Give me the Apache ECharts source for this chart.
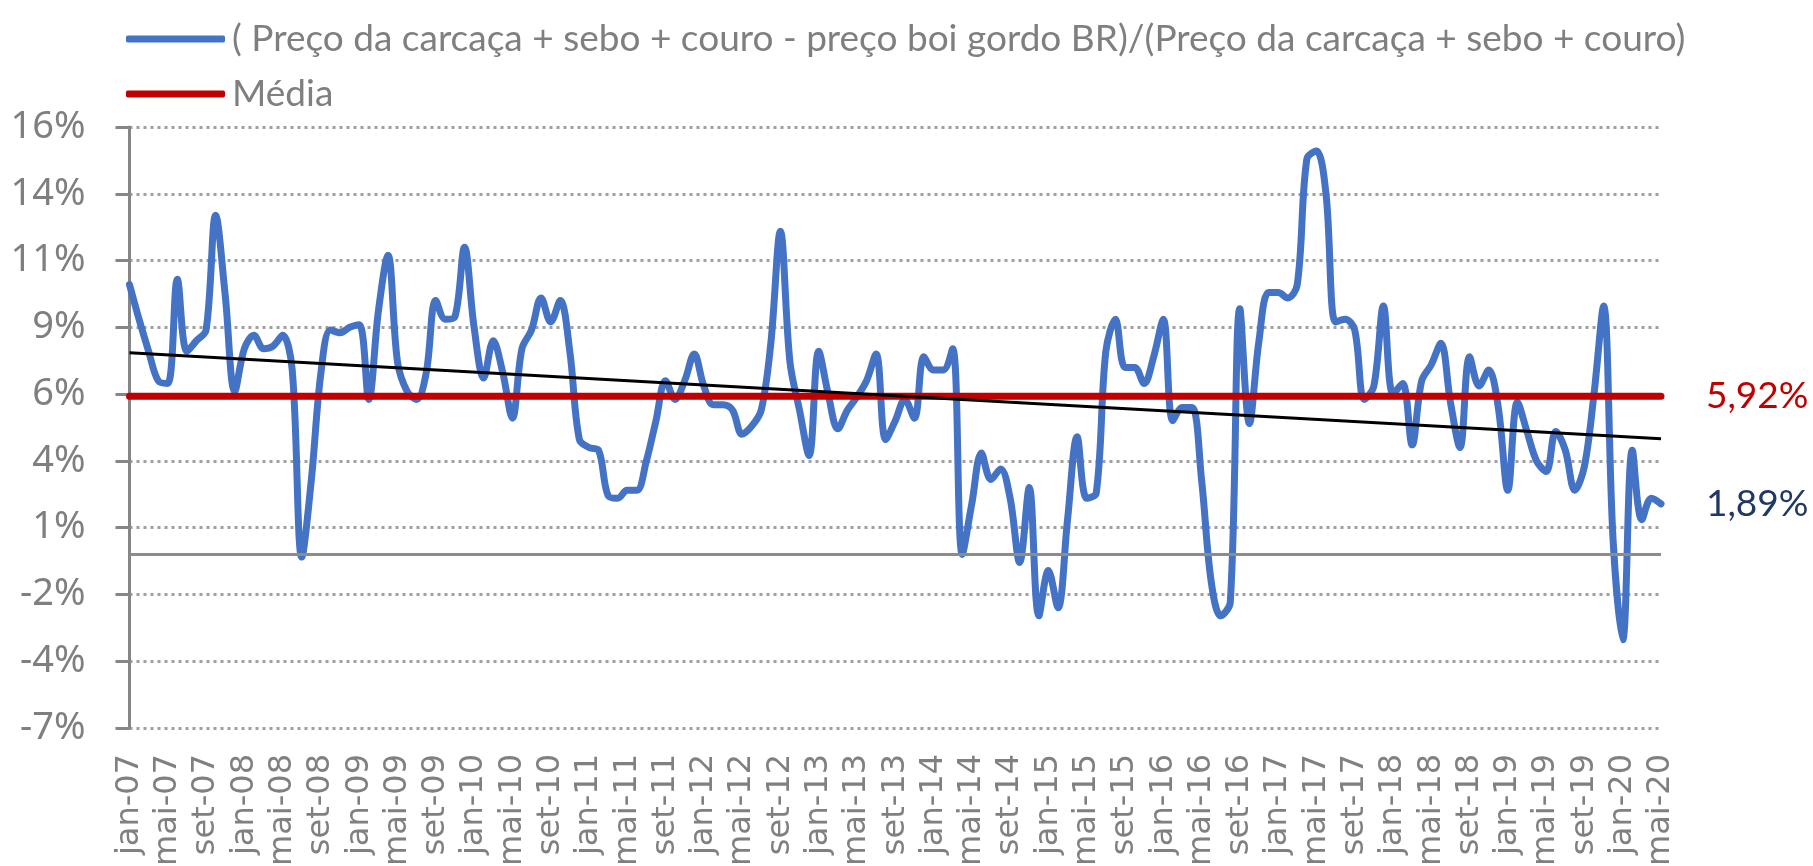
<!DOCTYPE html>
<html>
<head>
<meta charset="utf-8">
<script src="https://cdn.jsdelivr.net/npm/echarts@6/dist/echarts.min.js"></script>
<style>
  html, body { margin: 0; padding: 0; background: #fff; }
  #chart { width: 1813px; height: 866px; }
</style>
</head>
<body>
<div id="chart"></div>
<script>
// meses jan-07 .. mai-20
var nomesMes = ['jan','fev','mar','abr','mai','jun','jul','ago','set','out','nov','dez'];
var anoInicio = 2007;
var totalMeses = 161;
var meses = [];
for (var i = 0; i < totalMeses; i++) {
    var a = anoInicio + Math.floor(i / 12);
    meses.push(nomesMes[i % 12] + '-' + String(a).slice(2));
}

// (carcaça + sebo + couro - boi gordo) / (carcaça + sebo + couro), em %
var margem = [
    10.1, 8.8, 7.6, 6.5, 6.4, 10.3, 7.6, 8.0, 8.4, 12.7, 9.7, 6.1,
    7.7, 8.2, 7.7, 7.8, 8.2, 6.9, -0.1, 2.8, 6.8, 8.4, 8.3, 8.5,
    8.6, 5.8, 9.1, 11.2, 7.2, 6.1, 5.8, 6.8, 9.5, 8.8, 8.9, 11.5,
    8.5, 6.6, 8.0, 6.8, 5.1, 7.7, 8.4, 9.6, 8.7, 9.5, 7.6, 4.3,
    4.0, 3.9, 2.2, 2.1, 2.4, 2.4, 3.5, 5.0, 6.5, 5.8, 6.5, 7.5,
    6.3, 5.6, 5.6, 5.4, 4.5, 4.8, 5.4, 7.9, 12.1, 7.2, 5.4, 3.7,
    7.6, 6.0, 4.7, 5.4, 5.9, 6.5, 7.5, 4.3, 5.0, 5.8, 5.1, 7.4,
    6.9, 6.9, 7.7, 0.0, 1.9, 3.8, 2.8, 3.2, 2.1, -0.3, 2.5, -2.3,
    -0.6, -2.0, 1.3, 4.4, 2.1, 2.3, 7.6, 8.8, 7.0, 7.0, 6.4, 7.4,
    8.8, 5.0, 5.5, 5.5, 2.8, -1.0, -2.3, -1.8, 9.2, 4.9, 8.0, 9.8,
    9.8, 9.6, 10.1, 14.8, 15.1, 13.5, 8.7, 8.8, 8.4, 5.8, 6.3, 9.3,
    6.0, 6.4, 4.1, 6.5, 7.1, 7.9, 5.7, 4.0, 7.4, 6.3, 6.9, 5.5,
    2.4, 5.7, 4.6, 3.5, 3.1, 4.6, 3.9, 2.4, 3.3, 6.0, 9.3, 0.5,
    -3.2, 3.9, 1.3, 2.1, 1.89
];

var media = 5.92;
var tendencia = [7.55, 4.33];   // início e fim da linha de tendência

var nomeSerie = '( Preço da carcaça + sebo + couro - preço boi gordo BR)/(Preço da carcaça + sebo + couro)';

var dadosMedia = meses.map(function () { return media; });
var dadosTend = meses.map(function (m, i) {
    if (i === 0) return tendencia[0];
    if (i === meses.length - 1) return tendencia[1];
    return null;
});

function pct(v) {
    return v.toFixed(2).replace('.', ',') + '%';
}

var option = {
    animation: false,
    legend: {
        orient: 'vertical',
        left: 121,
        top: 14,
        itemWidth: 99,
        itemHeight: 7,
        itemGap: 15,
        icon: 'roundRect',
        data: [nomeSerie, 'Média'],
        textStyle: {
            fontFamily: 'Lato',
            fontSize: 37,
            lineHeight: 40,
            color: '#7f7f7f',
            padding: [0, 0, 0, 2]
        }
    },
    grid: {
        left: 129.5,
        right: 152,
        top: 127,
        bottom: 138,
        containLabel: false,
        outerBoundsMode: 'none'
    },
    xAxis: {
        type: 'category',
        boundaryGap: false,
        data: meses,
        axisLine: { show: false },
        axisTick: { show: false },
        axisLabel: {
            interval: 3,
            rotate: 90,
            margin: 26,
            fontFamily: 'DejaVu Sans',
            fontSize: 32,
            color: '#808080'
        }
    },
    yAxis: {
        type: 'value',
        min: -6.5,
        max: 16,
        interval: 2.5,
        axisLine: { show: true, lineStyle: { color: '#868686', width: 3 } },
        axisTick: { show: true, length: 14, lineStyle: { color: '#868686', width: 3 } },
        axisLabel: {
            margin: 44,
            fontFamily: 'Noto Sans',
            fontSize: 38,
            color: '#7f7f7f',
            formatter: function (v) {
                var r = Math.round(Math.abs(v));
                return (v < 0 ? '-' : '') + r + '%';
            }
        },
        splitLine: {
            show: true,
            lineStyle: { color: '#a0a0a0', width: 3, type: [3, 4] }
        }
    },
    series: [
        {
            name: nomeSerie,
            type: 'line',
            data: margem,
            smooth: 0.35,
            showSymbol: false,
            lineStyle: { color: '#4472C4', width: 7, cap: 'round', join: 'round' },
            itemStyle: { color: '#4472C4' },
            z: 2,
            endLabel: {
                show: true,
                distance: 45,
                fontFamily: 'Lato',
                fontSize: 37,
                color: '#1F3864',
                formatter: function (p) { return pct(p.value); }
            },
            markLine: {
                silent: true,
                symbol: 'none',
                label: { show: false },
                lineStyle: { color: '#8c8c8c', width: 3, type: 'solid' },
                data: [{ yAxis: 0 }]
            }
        },
        {
            name: 'Média',
            type: 'line',
            data: dadosMedia,
            showSymbol: false,
            lineStyle: { color: '#C00000', width: 7, cap: 'round' },
            itemStyle: { color: '#C00000' },
            z: 3,
            endLabel: {
                show: true,
                distance: 45,
                fontFamily: 'Lato',
                fontSize: 37,
                color: '#C00000',
                formatter: function (p) { return pct(p.value); }
            }
        },
        {
            name: 'Tendência',
            type: 'line',
            data: dadosTend,
            connectNulls: true,
            showSymbol: false,
            lineStyle: { color: '#000000', width: 3 },
            itemStyle: { color: '#000000' },
            z: 4
        }
    ]
};

var myChart = echarts.init(document.getElementById('chart'));
myChart.setOption(option);
window.addEventListener('resize', function () {
    myChart.resize();
});
</script>
</body>
</html>
